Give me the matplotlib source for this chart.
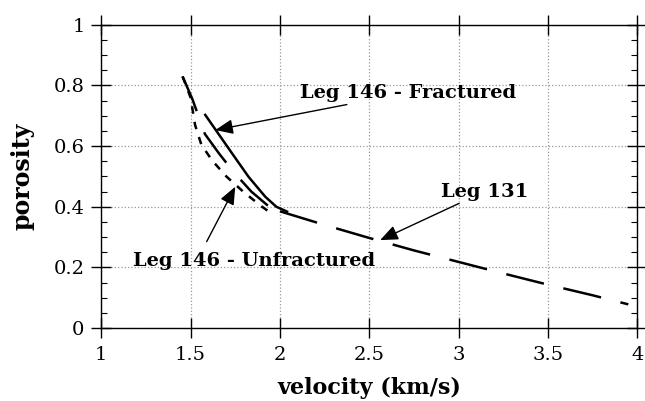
import matplotlib.pyplot as plt
from matplotlib.ticker import MultipleLocator

plt.rcParams['font.family'] = ['DejaVu Serif']

# Leg 131 (long dashes)
leg131_vel = [2.0, 2.25, 2.5, 2.75, 3.0, 3.25, 3.5, 3.75, 3.95]
leg131_por = [0.385, 0.34, 0.297, 0.256, 0.218, 0.180, 0.143, 0.108, 0.078]

# Leg 146 fractured (solid)
frac_vel = [1.582, 1.731, 1.824, 1.918, 1.98, 2.04]
frac_por = [0.703, 0.577, 0.499, 0.433, 0.40, 0.384]

# Leg 146 fractured, second curve (long dash)
frac2_vel = [1.455, 1.51, 1.58, 1.66, 1.74, 1.84, 1.95]
frac2_por = [0.83, 0.755, 0.64, 0.575, 0.515, 0.45, 0.395]

# Leg 146 unfractured (short dashes)
unfrac_vel = [1.455, 1.50, 1.525, 1.56, 1.62, 1.70, 1.80, 1.90, 1.96]
unfrac_por = [0.83, 0.76, 0.67, 0.605, 0.553, 0.50, 0.447, 0.40, 0.375]


def main():
    fig = plt.figure(figsize=(6.45, 4.01), dpi=100)
    fig.subplots_adjust(left=0.157, right=0.988, bottom=0.182, top=0.938)
    ax = fig.add_subplot(111)

    ax.plot(leg131_vel, leg131_por, color='black', lw=1.8, dashes=(15.5, 8))
    ax.plot(frac_vel, frac_por, color='black', lw=1.8)
    ax.plot(frac2_vel, frac2_por, color='black', lw=1.8, dashes=(15, 9))
    ax.plot(unfrac_vel, unfrac_por, color='black', lw=1.8, dashes=(3, 3.3))

    ax.set_xlim(1, 4)
    ax.set_ylim(0, 1)
    ax.set_xticks([1, 1.5, 2, 2.5, 3, 3.5, 4])
    ax.set_xticklabels(['1', '1.5', '2', '2.5', '3', '3.5', '4'])
    ax.set_yticks([0, 0.2, 0.4, 0.6, 0.8, 1])
    ax.set_yticklabels(['0', '0.2', '0.4', '0.6', '0.8', '1'])
    ax.yaxis.set_minor_locator(MultipleLocator(0.05))

    ax.tick_params(which='major', direction='inout', length=14, width=1,
                   top=True, right=True, labelsize=14)
    ax.tick_params(axis='x', which='major', pad=6)
    ax.tick_params(axis='y', which='major', pad=5)
    ax.tick_params(which='minor', direction='in', length=4, width=0.8,
                   left=True, right=True)
    ax.grid(True, which='major', color='#999999', ls=':', lw=0.9)
    for s in ax.spines.values():
        s.set_linewidth(1)

    ax.set_xlabel('velocity (km/s)', fontsize=16, fontweight='bold', labelpad=9)
    ax.set_ylabel('porosity', fontsize=17, fontweight='bold', labelpad=14)

    arrow = dict(arrowstyle='-|>,head_length=0.6,head_width=0.25', color='black',
                 lw=1, mutation_scale=18, shrinkA=0, shrinkB=0)
    ax.annotate('Leg 146 - Fractured', xy=(1.638, 0.653), xytext=(2.11, 0.776),
                fontsize=14, fontweight='bold', va='center', ha='left',
                arrowprops=arrow)
    ax.annotate('', xy=(1.75, 0.466), xytext=(1.59, 0.285), arrowprops=arrow)
    ax.text(1.18, 0.222, 'Leg 146 - Unfractured', fontsize=14, fontweight='bold',
            va='center', ha='left')
    ax.annotate('Leg 131', xy=(2.561, 0.29), xytext=(2.90, 0.45),
                fontsize=14, fontweight='bold', va='center', ha='left',
                arrowprops=arrow)

    plt.savefig('out.png', dpi=100)


if __name__ == "__main__":
    main()
